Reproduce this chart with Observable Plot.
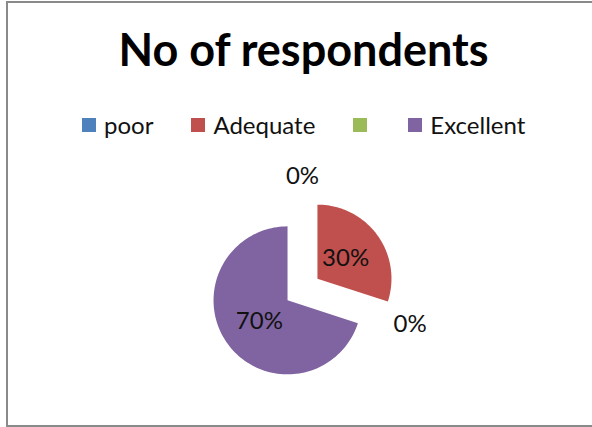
<!DOCTYPE html>
<html>
<head>
<meta charset="utf-8">
<script src="https://cdn.jsdelivr.net/npm/d3@7"></script>
<script src="https://cdn.jsdelivr.net/npm/@observablehq/plot@0.6"></script>
<style>
  html, body { margin: 0; padding: 0; background: #fff; }
  #frame { position: relative; width: 592px; height: 427px; overflow: hidden; font-family: Lato, "Open Sans", sans-serif; color: #000; }
  #border { position: absolute; left: 6px; top: 1px; width: 620px; height: 422px; border: 2px solid #8a8a8a; box-sizing: content-box; }
  #title { position: absolute; left: 0; width: 607px; top: 27px; text-align: center; font-weight: bold; font-size: 45px; line-height: 1; }
  #legend { position: absolute; left: 82px; top: 113px; display: flex; align-items: center; font-size: 24px; line-height: 24px; color: #111; }
  .item { display: flex; align-items: center; margin-right: 38px; }
  .sw { width: 14px; height: 14px; margin-right: 8px; }
  .item.empty { margin-right: 33px; }
  #chart { position: absolute; left: 0; top: 140px; }
</style>
</head>
<body>
<div id="frame">
  <div id="border"></div>
  <div id="title"></div>
  <div id="legend"></div>
  <div id="chart"></div>
</div>
<script>
const title = "No of respondents";
const categories = ["poor", "Adequate", "", "Excellent"];
const legendLabels = ["poor", "Adequate", "", "Excellent"];
const values = [0, 30, 0, 70];
const colors = ["#4F81BD", "#C0504D", "#9BBB59", "#8064A2"];
const keys = ["poor", "Adequate", "green", "Excellent"];

document.getElementById("title").textContent = title;

// legend
const legend = document.getElementById("legend");
keys.forEach((k, i) => {
  const item = document.createElement("div");
  item.className = "item" + (legendLabels[i] === "" ? " empty" : "");
  const sw = document.createElement("div");
  sw.className = "sw";
  sw.style.background = colors[i];
  item.appendChild(sw);
  const lab = document.createElement("span");
  lab.textContent = legendLabels[i];
  item.appendChild(lab);
  legend.appendChild(item);
});

// pie geometry (layout)
const W = 592, H = 287, R = 74, cx = 302, cy = 149;
const explode = 0.25;

const total = d3.sum(values);
const arcs = d3.pie().sort(null).value(d => d)(values);

const polys = [];
const labels = [];
arcs.forEach((a, i) => {
  const mid = (a.startAngle + a.endAngle) / 2;
  const ox = explode * Math.sin(mid), oy = explode * Math.cos(mid);
  if (a.endAngle > a.startAngle) {
    polys.push({key: keys[i], x: ox, y: oy});
    const n = 120;
    for (let j = 0; j <= n; j++) {
      const t = a.startAngle + (a.endAngle - a.startAngle) * j / n;
      polys.push({key: keys[i], x: ox + Math.sin(t), y: oy + Math.cos(t)});
    }
    polys.push({key: keys[i], x: ox, y: oy});
  }
  const rr = values[i] > 0 ? 0.47 : 1.53;
  const bx = values[i] > 0 ? ox : 0, by = values[i] > 0 ? oy : 0;
  labels.push({
    x: bx + rr * Math.sin(mid),
    y: by + rr * Math.cos(mid),
    text: Math.round(values[i] / total * 100) + "%"
  });
});

const plot = Plot.plot({
  width: W,
  height: H,
  margin: 0,
  x: {domain: [-cx / R, (W - cx) / R], axis: null},
  y: {domain: [-(H - cy) / R, cy / R], axis: null},
  color: {domain: keys, range: colors},
  style: {fontFamily: "Lato, 'Open Sans', sans-serif", background: "transparent"},
  marks: [
    Plot.line(polys, {x: "x", y: "y", z: "key", fill: "key", stroke: "none"}),
    Plot.text(labels, {x: "x", y: "y", text: "text", fontSize: 24, fill: "#111"})
  ]
});
document.getElementById("chart").appendChild(plot);
</script>
</body>
</html>
